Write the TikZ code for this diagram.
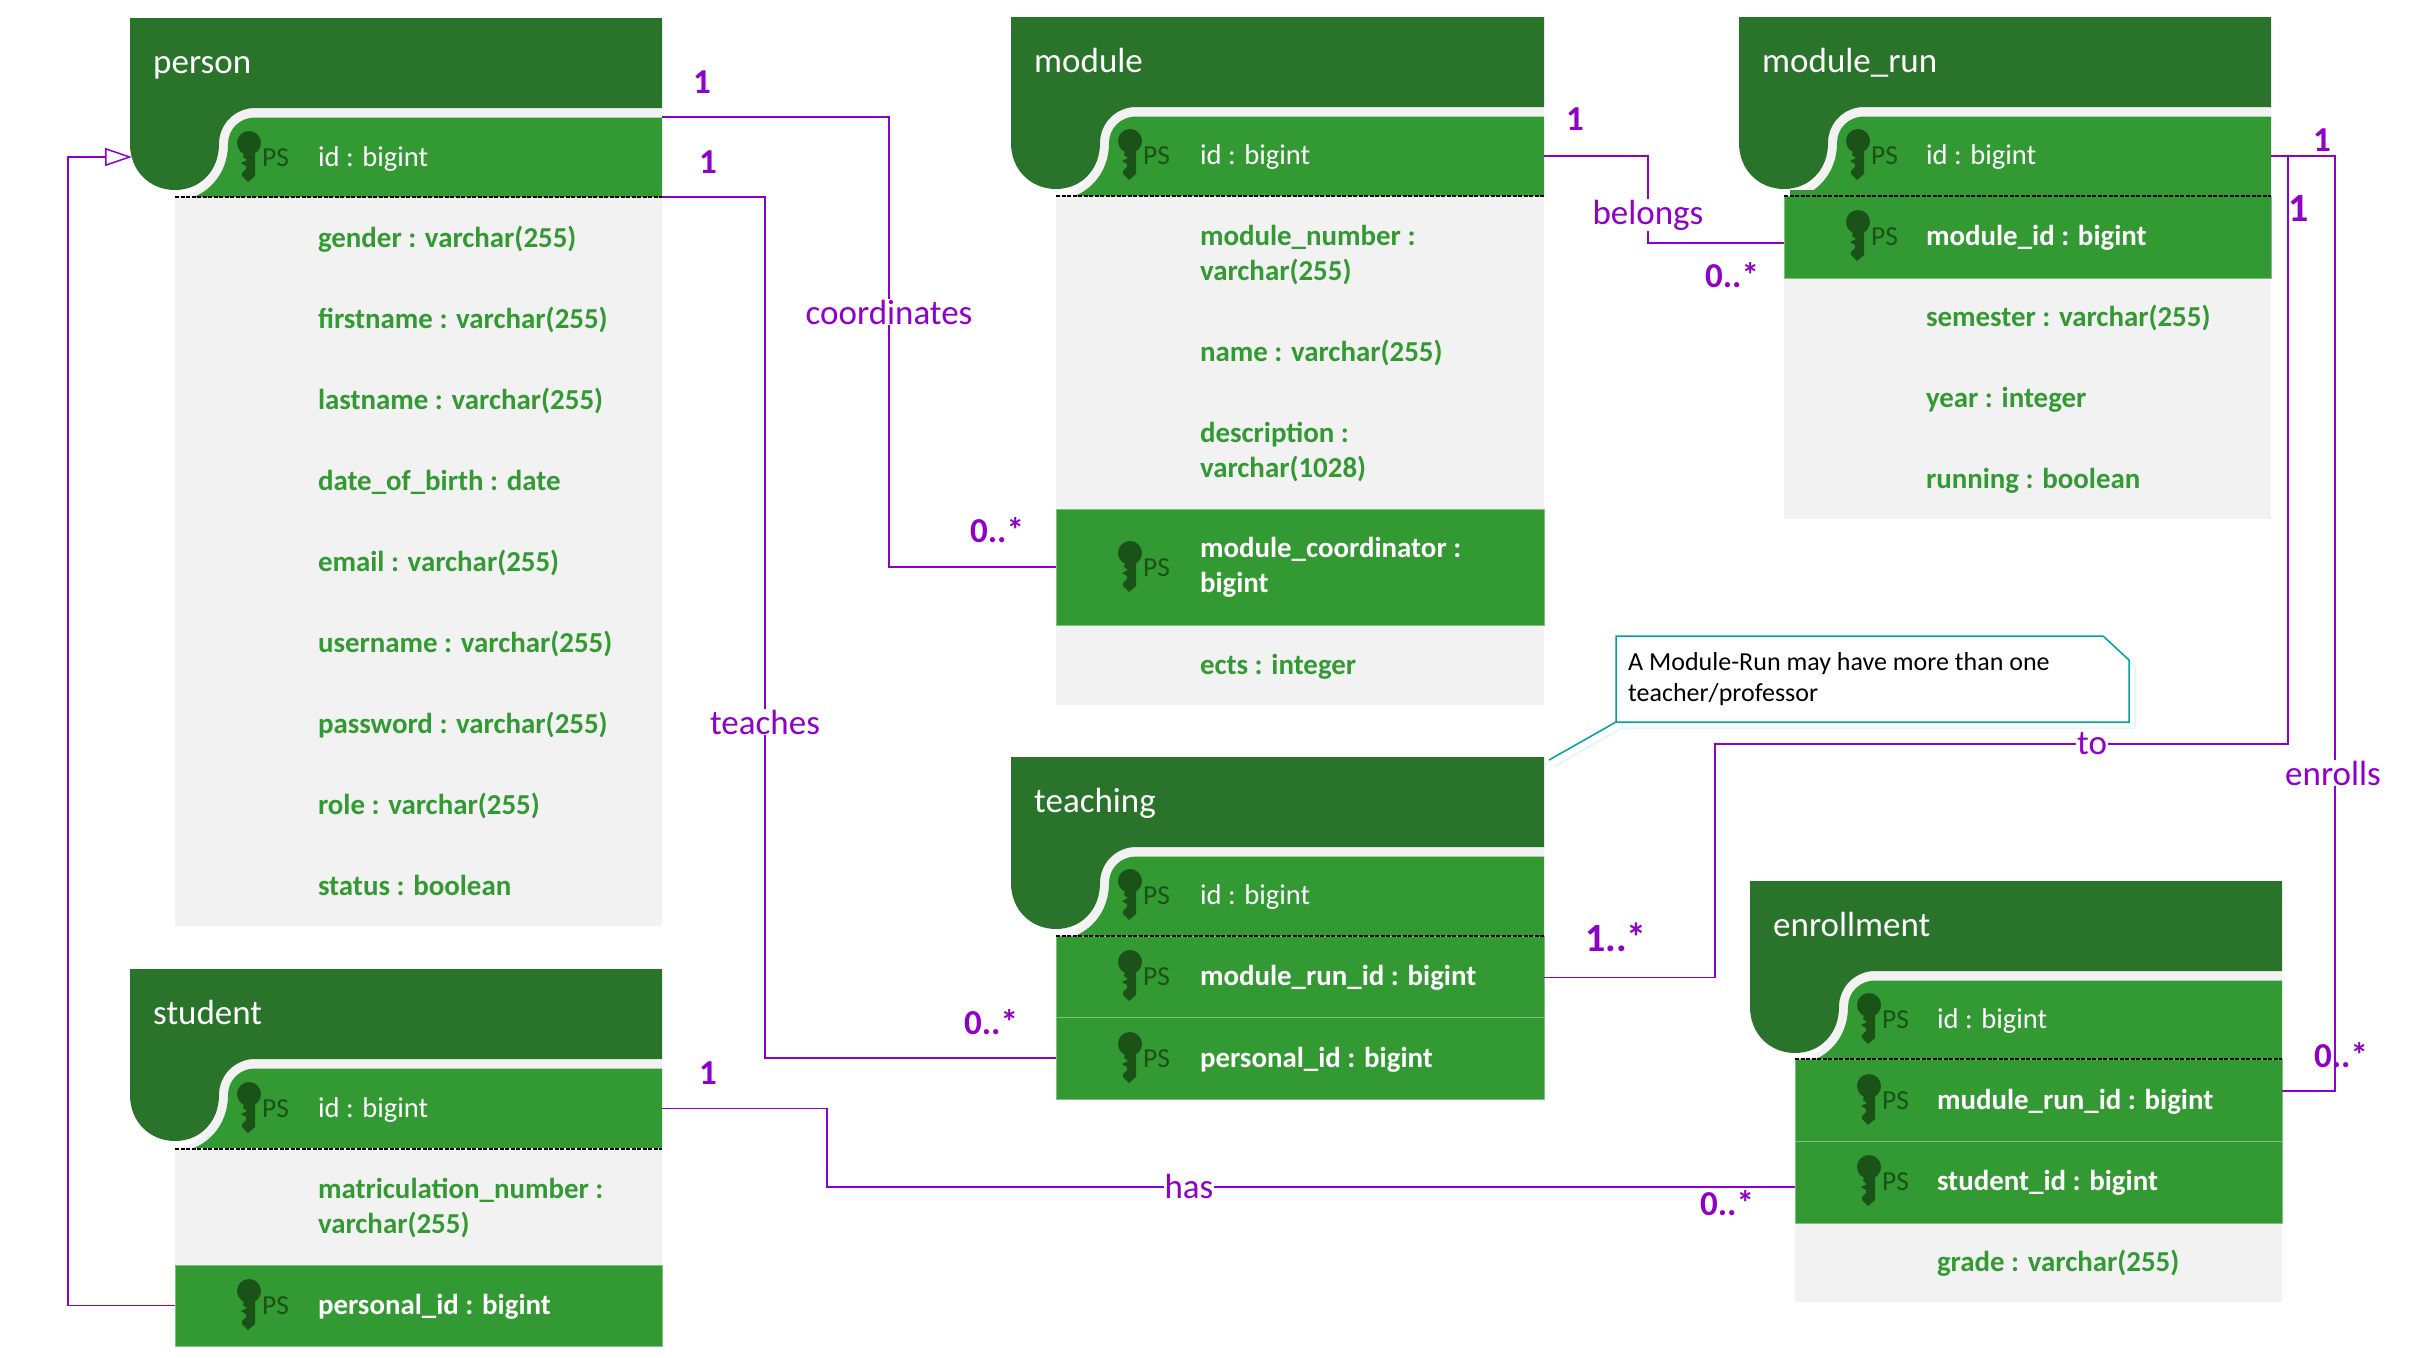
\documentclass[tikz,border=0pt]{standalone}
\usepackage{fontspec}
\setmainfont{Carlito}
\usetikzlibrary{arrows.meta}
\definecolor{headgreen}{HTML}{2A732A}
\definecolor{rowgreen}{HTML}{339933}
\definecolor{rowedge}{HTML}{7FBF7F}
\definecolor{panelgray}{HTML}{F2F2F2}
\definecolor{keygreen}{HTML}{1A5218}
\definecolor{linkpurple}{HTML}{8F00C8}
\definecolor{noteteal}{HTML}{00A0A0}
\definecolor{noteshadow}{HTML}{E0F6F6}
\tikzset{
  x=1pt,y=-1pt,
  rowbox/.style={rectangle,inner sep=0pt,outer sep=0pt,anchor=north west},
  panelrow/.style={rowbox,fill=panelgray},
  greenrow/.style={rowbox,fill=rowgreen,draw=rowedge,line width=0.8pt},
  hollowrow/.style={rowbox},
  fieldbase/.style={inner sep=0pt,outer sep=0pt,anchor=west,align=left,yshift=-2pt,font=\fontsize{28.6}{35}\selectfont},
  pkfield/.style={fieldbase,text=white},
  fkfield/.style={fieldbase,text=white,font=\fontsize{28.9}{35}\selectfont\bfseries},
  plainfield/.style={fieldbase,text=rowgreen,font=\fontsize{28.9}{35}\selectfont\bfseries},
  titletext/.style={inner sep=0pt,anchor=west,text=white,font=\fontsize{35}{38}\selectfont},
  pstext/.style={inner sep=0pt,anchor=west,yshift=-2pt,text=keygreen,font=\fontsize{27.5}{35}\selectfont},
  link/.style={draw=linkpurple,line width=1.5pt},
  linklabel/.style={inner sep=1pt,fill=white,text=linkpurple,font=\fontsize{35}{40}\selectfont},
  multi/.style={inner sep=0pt,text=linkpurple,font=\fontsize{35}{38}\selectfont\bfseries},
  multibig/.style={multi,font=\fontsize{40}{44}\selectfont\bfseries},
  keydash/.style={draw=black,line width=1.6pt,dash pattern=on 4pt off 1.5pt},
  notetext/.style={inner sep=0pt,anchor=north west,align=left,text=black,font=\fontsize{26}{31}\selectfont},
}
% name, L, R, T, title
\newcommand{\dbheader}[5]{%
  \fill[panelgray] (#3,#4+90) -- (#2+125,#4+90) .. controls (#2+105,#4+90) and (#2+89,#4+106) .. (#2+89,#4+126)
    .. controls (#2+89,#4+153) and (#2+70,#4+179) .. (#2+45,#4+179) -- (#3,#4+179) -- cycle;
  \fill[rowgreen] (#3,#4+99.5) -- (#2+125,#4+99.5) .. controls (#2+110,#4+99.5) and (#2+98,#4+111) .. (#2+98,#4+126)
    .. controls (#2+98,#4+150) and (#2+85,#4+170) .. (#2+64,#4+179) -- (#3,#4+179) -- cycle;
  \fill[headgreen] (#2,#4) -- (#3,#4) -- (#3,#4+90) -- (#2+125,#4+90) .. controls (#2+105,#4+90) and (#2+89,#4+106) .. (#2+89,#4+126)
    .. controls (#2+89,#4+153) and (#2+70,#4+172) .. (#2+45,#4+172)
    .. controls (#2+20,#4+172) and (#2,#4+153) .. (#2,#4+126) -- cycle;
  \node[titletext] (#1-title) at (#2+23,#4+48) {\strut #5};
  \coordinate (#1-notch) at (#2,#4+139);
  \coordinate (#1-corner) at (#3+5,#4+3);
}
% name, x0, y0, x1, y1, style
\newcommand{\dbrow}[6]{%
  \node[#6,minimum width={(#4-#2)*1pt},minimum height={(#5-#3)*1pt}] (#1) at (#2,#3) {};
}
% name, x, yc, style, text
\newcommand{\dbfield}[5]{\node[#4] (#1) at (#2,#3) {#5};}
% x0 (panel left), yc
\newcommand{\dbkey}[3]{%
  \fill[keygreen] (#2+74,#3-14) ellipse [x radius=12,y radius=12];
  \fill[keygreen] (#2+69,#3-4) -- (#2+68,#3) -- (#2+72,#3+3) -- (#2+66,#3+6) -- (#2+71,#3+9) -- (#2+71,#3+12)
     -- (#2+67,#3+16) -- (#2+67,#3+19) -- (#2+73,#3+25) -- (#2+80,#3+19) -- (#2+80,#3-4) -- cycle;
  \node[pstext] (#1) at (#2+87,#3) {\strut PS};
}
\begin{document}
\begin{tikzpicture}
\useasboundingbox (0,0) rectangle (2424,1357);
\fill[white] (0,0) rectangle (2424,1357);

% ---------- person
\dbrow{person-panel}{175}{197}{662}{926}{panelrow}
\dbheader{person}{130}{662}{18}{person}
\dbrow{person-id}{175}{117}{662}{197}{hollowrow}
\draw[keydash] (175,197) -- (662,197);
\dbkey{person-ps}{175}{157}
\dbfield{person-id-t}{318}{157}{pkfield}{\strut id : bigint}
\dbfield{person-f1}{318}{238}{plainfield}{\strut gender : varchar(255)}
\dbfield{person-f2}{318}{319}{plainfield}{\strut firstname : varchar(255)}
\dbfield{person-f3}{318}{400}{plainfield}{\strut lastname : varchar(255)}
\dbfield{person-f4}{318}{481}{plainfield}{\strut date\_of\_birth : date}
\dbfield{person-f5}{318}{562}{plainfield}{\strut email : varchar(255)}
\dbfield{person-f6}{318}{643}{plainfield}{\strut username : varchar(255)}
\dbfield{person-f7}{318}{724}{plainfield}{\strut password : varchar(255)}
\dbfield{person-f8}{318}{805}{plainfield}{\strut role : varchar(255)}
\dbfield{person-f9}{318}{886}{plainfield}{\strut status : boolean}

% ---------- student
\dbrow{student-panel}{175}{1149}{662}{1265}{panelrow}
\dbheader{student}{130}{662}{969}{student}
\dbrow{student-id}{175}{1068}{662}{1149}{hollowrow}
\draw[keydash] (175,1149) -- (662,1149);
\dbkey{student-ps}{175}{1108}
\dbfield{student-id-t}{318}{1108}{pkfield}{\strut id : bigint}
\dbfield{student-f1}{318}{1207}{plainfield}{\strut matriculation\_number :\\\strut varchar(255)}
\dbrow{student-pid}{175}{1265}{662}{1346}{greenrow}
\dbkey{student-pid-ps}{175}{1305}
\dbfield{student-pid-t}{318}{1305}{fkfield}{\strut personal\_id : bigint}

% ---------- module
\dbrow{module-panel}{1056}{196}{1544}{705}{panelrow}
\dbheader{module}{1011}{1544}{17}{module}
\dbrow{module-id}{1056}{116}{1544}{196}{hollowrow}
\draw[keydash] (1056,196) -- (1544,196);
\dbkey{module-ps}{1056}{155}
\dbfield{module-id-t}{1200}{155}{pkfield}{\strut id : bigint}
\dbfield{module-f1}{1200}{254}{plainfield}{\strut module\_number :\\\strut varchar(255)}
\dbfield{module-f2}{1200}{352}{plainfield}{\strut name : varchar(255)}
\dbfield{module-f3}{1200}{451}{plainfield}{\strut description :\\\strut varchar(1028)}
\dbrow{module-coord}{1056}{509}{1544}{625}{greenrow}
\dbkey{module-coord-ps}{1056}{567}
\dbfield{module-coord-t}{1200}{566}{fkfield}{\strut module\_coordinator :\\\strut bigint}
\dbfield{module-f4}{1200}{665}{plainfield}{\strut ects : integer}

% ---------- module_run
\dbrow{mrun-panel}{1784}{278}{2271}{519}{panelrow}
\dbheader{mrun}{1739}{2271}{17}{module\_run}
\dbrow{mrun-id}{1784}{116}{2271}{196}{hollowrow}
\dbrow{mrun-mid}{1784}{196}{2271}{278}{greenrow}
\fill[rowgreen] (1790,190) rectangle (2271,197);
\draw[keydash] (1784,196) -- (2271,196);
\dbkey{mrun-ps}{1784}{155}
\dbfield{mrun-id-t}{1926}{155}{pkfield}{\strut id : bigint}
\dbkey{mrun-mid-ps}{1784}{236}
\dbfield{mrun-mid-t}{1926}{236}{fkfield}{\strut module\_id : bigint}
\dbfield{mrun-f1}{1926}{317}{plainfield}{\strut semester : varchar(255)}
\dbfield{mrun-f2}{1926}{398}{plainfield}{\strut year : integer}
\dbfield{mrun-f3}{1926}{479}{plainfield}{\strut running : boolean}

% ---------- teaching
\dbheader{teaching}{1011}{1544}{757}{teaching}
\dbrow{teach-id}{1056}{856}{1544}{936}{hollowrow}
\dbrow{teach-mrid}{1056}{936}{1544}{1017}{greenrow}
\dbrow{teach-pid}{1056}{1017}{1544}{1099}{greenrow}
\draw[keydash] (1056,936) -- (1544,936);
\dbkey{teach-ps}{1056}{895}
\dbfield{teach-id-t}{1200}{895}{pkfield}{\strut id : bigint}
\dbkey{teach-mrid-ps}{1056}{976}
\dbfield{teach-mrid-t}{1200}{976}{fkfield}{\strut module\_run\_id : bigint}
\dbkey{teach-pid-ps}{1056}{1058}
\dbfield{teach-pid-t}{1200}{1058}{fkfield}{\strut personal\_id : bigint}

% ---------- enrollment
\dbrow{enrol-panel}{1795}{1223}{2282}{1302}{panelrow}
\dbheader{enrol}{1750}{2282}{881}{enrollment}
\dbrow{enrol-id}{1795}{980}{2282}{1059}{hollowrow}
\dbrow{enrol-mrid}{1795}{1059}{2282}{1141}{greenrow}
\dbrow{enrol-sid}{1795}{1141}{2282}{1223}{greenrow}
\draw[keydash] (1795,1059) -- (2282,1059);
\dbkey{enrol-ps}{1795}{1019}
\dbfield{enrol-id-t}{1937}{1019}{pkfield}{\strut id : bigint}
\dbkey{enrol-mrid-ps}{1795}{1100}
\dbfield{enrol-mrid-t}{1937}{1100}{fkfield}{\strut mudule\_run\_id : bigint}
\dbkey{enrol-sid-ps}{1795}{1181}
\dbfield{enrol-sid-t}{1937}{1181}{fkfield}{\strut student\_id : bigint}
\dbfield{enrol-f1}{1937}{1262}{plainfield}{\strut grade : varchar(255)}

% ---------- connector bend points
\coordinate (bend-coord) at (889,312);
\coordinate (bend-teach) at (765,722);
\coordinate (bend-belong) at (1648,215);
\coordinate (bend-to1) at (1715,744);
\coordinate (bend-to2) at (2288,744);
\coordinate (bend-enrol) at (2335,773);
\coordinate (bend-has) at (827,1187);
\coordinate (bend-inh) at (68,700);

% ---------- connectors
\draw[link] (person-id.north east) -| (bend-coord) |- (module-coord.west);
\draw[link] (person-id.south east) -| (bend-teach) |- (teach-pid.west);
\draw[link] (module-id.east) -| (bend-belong) |- ([yshift=-6pt]mrun-mid.west);
\draw[link] ([yshift=-1pt]teach-mrid.east) -| (bend-to1) -- (bend-to2) |- (mrun-id.east);
\draw[link] (mrun-id.east) -| (bend-enrol) |- ([yshift=9pt]enrol-mrid.east);
\draw[link] (student-id.east) -| (bend-has) |- ([yshift=-5pt]enrol-sid.west);
\draw[link,shorten >=-2pt,-{Triangle[open,length=27pt,width=18pt,fill=white]}] (student-pid.west) -| (bend-inh) |- (person-notch);

% ---------- note
\node[rowbox,minimum width=513pt,minimum height=86pt] (note) at (1616,636) {};
\draw[noteshadow,line width=1.5pt] (1622,642) -- (2109,642) -- (2135,666) -- (2135,728) -- (1622,728) -- cycle;
\draw[noteshadow,line width=1.5pt] (1622,728) -- (1555,766);
\fill[white] (1616,636) -- (2103,636) -- (2129,660) -- (2129,722) -- (1616,722) -- cycle;
\draw[noteteal,line width=1.5pt] (note.north west) -- (2103,636) -- (2129,660) -- (note.south east) -- (note.south west) -- cycle;
\draw[noteteal,line width=1.5pt] (note.south west) -- (teaching-corner);
\node[notetext] (note-t) at (1628,652) {A Module-Run may have more than one\\teacher/professor};

% ---------- connector labels
\node[linklabel] (lab-coord) at (bend-coord) {coordinates};
\node[linklabel] (lab-teach) at (bend-teach) {teaches};
\node[linklabel] (lab-belong) at (bend-belong) {belongs};
\node[linklabel] (lab-to) at (2092,744) {to};
\node[linklabel] (lab-enrol) at (2333,773) {enrolls};
\node[linklabel] (lab-has) at (1189,1186) {has};

% ---------- multiplicities
\node[multi] (m1) at (702,82) {1};
\node[multi] (m2) at (708,162) {1};
\node[multi] (m3) at (997,530) {0..*};
\node[multi] (m4) at (991,1022) {0..*};
\node[multi] (m5) at (1575,119) {1};
\node[multi] (m6) at (1732,275) {0..*};
\node[multibig] (m7) at (1616,937) {1..*};
\node[multibig] (m8) at (2299,209) {1};
\node[multi] (m9) at (2322,140) {1};
\node[multi] (m10) at (2341,1055) {0..*};
\node[multi] (m11) at (708,1073) {1};
\node[multi] (m12) at (1727,1203) {0..*};
\end{tikzpicture}
\end{document}
